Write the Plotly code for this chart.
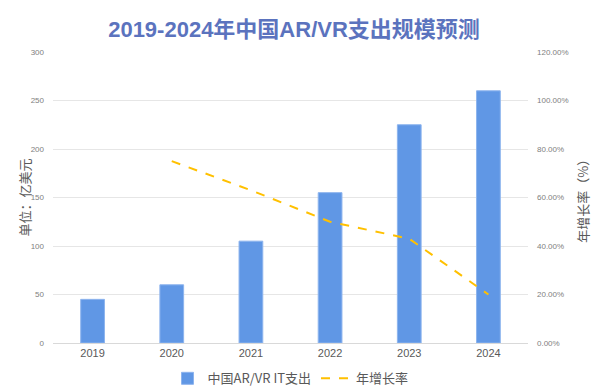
import plotly.graph_objects as go

years = ["2019", "2020", "2021", "2022", "2023", "2024"]
spend = [45, 60, 105, 155, 225, 260]
growth = [None, 0.75, 0.63, 0.50, 0.43, 0.20]
left_ticks = [0, 50, 100, 150, 200, 250, 300]
right_ticks = [0, 0.2, 0.4, 0.6, 0.8, 1.0, 1.2]

FONT = "Liberation Sans, Noto Sans CJK SC, sans-serif"
CJK = "Noto Sans CJK SC, Liberation Sans, sans-serif"

fig = go.Figure()
fig.add_trace(go.Bar(
    x=years, y=spend, name="中国AR/VR IT支出",
    marker=dict(color="#6097E5", line=dict(color="#8DB4EE", width=1)),
    yaxis="y",
))
fig.add_trace(go.Scatter(
    x=years, y=growth, name="年增长率", mode="lines",
    line=dict(color="#FFC000", width=2, dash="dash"),
    yaxis="y2", connectgaps=False,
))

fig.update_layout(
    width=600, height=391,
    margin=dict(l=53, r=72, t=52, b=48, autoexpand=False),
    paper_bgcolor="white", plot_bgcolor="white",
    bargap=0.7,
    font=dict(family=FONT, size=9, color="#808080"),
    title=dict(
        text="<b>2019-2024年中国AR/VR支出规模预测</b>",
        x=0.49, xanchor="center", y=0.925, yanchor="middle",
        font=dict(family="Liberation Sans, Noto Sans CJK SC, sans-serif", size=22, color="#5B73BE"),
    ),
    xaxis=dict(
        type="category", showgrid=False, showline=True, linecolor="#D9D9D9",
        ticks="", tickfont=dict(size=11, color="#595959", family=FONT),
    ),
    yaxis=dict(
        range=[0, 300], tickvals=left_ticks, showgrid=True, gridcolor="#E6E6E6",
        zeroline=False, showline=False, ticks="", ticklabelstandoff=8,
        tickfont=dict(size=8, color="#808080"),
    ),
    yaxis2=dict(
        range=[0, 1.2], tickvals=right_ticks, tickformat=".2%", overlaying="y",
        side="right", showgrid=False, zeroline=False, showline=False, ticks="",
        ticklabelstandoff=8, tickfont=dict(size=8, color="#808080"),
    ),
    legend=dict(
        orientation="h", x=0.5, xanchor="center", y=-0.07, yanchor="top",
        font=dict(family=CJK, size=13, color="#595959"),
        itemwidth=30, tracegroupgap=0,
    ),
    annotations=[
        dict(text="单位：亿美元", xref="paper", yref="paper", x=-0.061, y=0.5,
             xanchor="center", yanchor="middle", textangle=-90, showarrow=False,
             font=dict(family=CJK, size=13, color="#595959")),
        dict(text="年增长率（%）", xref="paper", yref="paper", x=1.114, y=0.5,
             xanchor="center", yanchor="middle", textangle=-90, showarrow=False,
             font=dict(family=CJK, size=13, color="#595959")),
    ],
)

fig.write_html("out.html", config={"displayModeBar": False},
               post_script="document.body.style.margin='0';")
